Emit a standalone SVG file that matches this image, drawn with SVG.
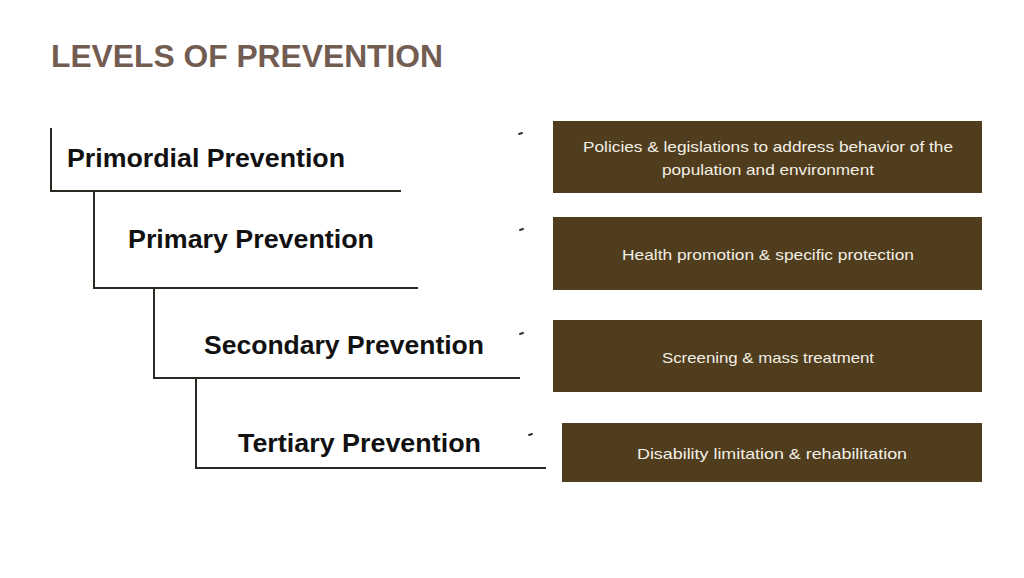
<svg xmlns="http://www.w3.org/2000/svg" width="1024" height="578" viewBox="0 0 1024 578">
<style>
.title{font-family:"Liberation Sans",Arial,sans-serif;font-weight:bold;font-size:32px;fill:#735c52}
.lvl{font-family:"Liberation Sans",Arial,sans-serif;font-weight:bold;font-size:25px;fill:#111}
.box{fill:#4f3d1e}
.bt{font-family:"Liberation Sans",Arial,sans-serif;font-size:15px;fill:#f3efe4;text-anchor:middle}
.ln{stroke:#2a2a22;stroke-width:2;fill:none}
.tick{stroke:#333;stroke-width:2;stroke-linecap:round}
</style>
<rect width="1024" height="578" fill="#fff"/>
<text class="title" x="51" y="67" textLength="392" lengthAdjust="spacingAndGlyphs">LEVELS OF PREVENTION</text>
<g id="connectors">
<path class="ln" d="M51,128 V191 H401"/>
<path class="ln" d="M94,191 V288 H418"/>
<path class="ln" d="M154,288 V378 H520"/>
<path class="ln" d="M196,378 V468 H546"/>
<line class="tick" x1="519" y1="134" x2="522" y2="133"/>
<line class="tick" x1="520" y1="230" x2="523" y2="229"/>
<line class="tick" x1="520" y1="334" x2="523" y2="333"/>
<line class="tick" x1="529" y1="435" x2="532" y2="434"/>
</g>
<g id="primordial">
<text class="lvl" x="67" y="167" textLength="278" lengthAdjust="spacingAndGlyphs">Primordial Prevention</text>
</g>
<g id="primary">
<text class="lvl" x="128" y="248" textLength="246" lengthAdjust="spacingAndGlyphs">Primary Prevention</text>
</g>
<g id="secondary">
<text class="lvl" x="204" y="354" textLength="280" lengthAdjust="spacingAndGlyphs">Secondary Prevention</text>
</g>
<g id="tertiary">
<text class="lvl" x="238" y="452" textLength="243" lengthAdjust="spacingAndGlyphs">Tertiary Prevention</text>
</g>
<g id="box-primordial">
<rect class="box" x="553" y="121" width="429" height="72"/>
<text class="bt" x="768" y="152" textLength="370" lengthAdjust="spacingAndGlyphs">Policies &amp; legislations to address behavior of the</text>
<text class="bt" x="768" y="175" textLength="212" lengthAdjust="spacingAndGlyphs">population and environment</text>
</g>
<g id="box-primary">
<rect class="box" x="553" y="217" width="429" height="73"/>
<text class="bt" x="768" y="260" textLength="292" lengthAdjust="spacingAndGlyphs">Health promotion &amp; specific protection</text>
</g>
<g id="box-secondary">
<rect class="box" x="553" y="320" width="429" height="72"/>
<text class="bt" x="768" y="363" textLength="212" lengthAdjust="spacingAndGlyphs">Screening &amp; mass treatment</text>
</g>
<g id="box-tertiary">
<rect class="box" x="562" y="423" width="420" height="59"/>
<text class="bt" x="772" y="459" textLength="270" lengthAdjust="spacingAndGlyphs">Disability limitation &amp; rehabilitation</text>
</g>
</svg>
